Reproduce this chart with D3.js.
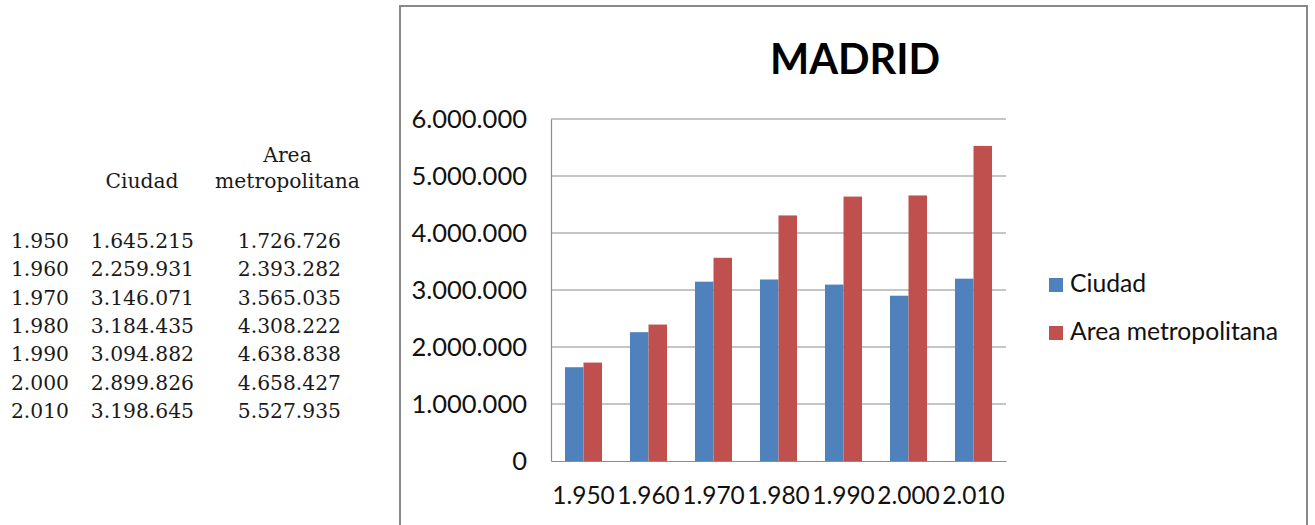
<!DOCTYPE html>
<html>
<head>
<meta charset="utf-8">
<script src="https://cdn.jsdelivr.net/npm/d3@7"></script>
<style>
  html, body { margin: 0; padding: 0; background: #fff; overflow: hidden; }
  svg { display: block; }
</style>
</head>
<body>
<svg id="chart" width="1315" height="525"></svg>
<script>
// ---- data ----
const years = [1950, 1960, 1970, 1980, 1990, 2000, 2010];
const ciudad = [1645215, 2259931, 3146071, 3184435, 3094882, 2899826, 3198645];
const areaMetropolitana = [1726726, 2393282, 3565035, 4308222, 4638838, 4658427, 5527935];
const seriesNames = ["Ciudad", "Area metropolitana"];
const yTicks = [0, 1000000, 2000000, 3000000, 4000000, 5000000, 6000000];
const title = "MADRID";

// ---- formatting (Spanish thousands separator) ----
const loc = d3.formatLocale({ decimal: ",", thousands: ".", grouping: [3], currency: ["", "€"] });
const fmt = loc.format(",d");

const svg = d3.select("#chart");
const colors = ["#4F81BD", "#C0504D"];
const sansFont = "Lato, 'Open Sans', sans-serif";
const serifFont = "'DejaVu Serif', serif";

// ---- left data table ----
const table = svg.append("g").attr("font-family", serifFont).attr("font-size", 20.3).attr("fill", "#1a1a1a");
const colRight = [69, 194, 341];
const colCenter = [40, 142, 287.5];
table.append("text").attr("x", colCenter[1]).attr("y", 188).attr("text-anchor", "middle").text(seriesNames[0]);
table.append("text").attr("x", colCenter[2]).attr("y", 162).attr("text-anchor", "middle").text("Area");
table.append("text").attr("x", colCenter[2]).attr("y", 188).attr("text-anchor", "middle").text("metropolitana");
const rowY = d3.scaleLinear().domain([0, years.length - 1]).range([248, 418]);
years.forEach((yr, i) => {
  const row = [fmt(yr), fmt(ciudad[i]), fmt(areaMetropolitana[i])];
  row.forEach((t, c) => {
    table.append("text").attr("x", colRight[c]).attr("y", rowY(i)).attr("text-anchor", "end").text(t);
  });
});

// ---- chart frame ----
svg.append("rect")
  .attr("x", 400).attr("y", 6).attr("width", 907).attr("height", 560)
  .attr("fill", "#fff").attr("stroke", "#898989").attr("stroke-width", 2);

// ---- title ----
svg.append("text")
  .attr("x", 855).attr("y", 74)
  .attr("text-anchor", "middle")
  .attr("font-family", sansFont).attr("font-weight", "bold").attr("font-size", 41.5)
  .attr("fill", "#000")
  .text(title);

// ---- scales ----
const plot = { left: 551, right: 1006, top: 119, bottom: 461 };
const x0 = d3.scaleBand().domain(years).range([plot.left, plot.right]).paddingInner(0.43).paddingOuter(0.215);
const x1 = d3.scaleBand().domain([0, 1]).range([0, x0.bandwidth()]);
const y = d3.scaleLinear().domain([0, 6000000]).range([plot.bottom, plot.top]);

// ---- gridlines ----
svg.append("g")
  .selectAll("line").data(yTicks.filter(d => d > 0)).join("line")
  .attr("x1", plot.left).attr("x2", plot.right)
  .attr("y1", d => y(d)).attr("y2", d => y(d))
  .attr("stroke", "#8c8c8c").attr("stroke-width", 1.2);

// ---- bars ----
const seriesData = [ciudad, areaMetropolitana];
const gBars = svg.append("g");
seriesData.forEach((vals, s) => {
  gBars.selectAll(null).data(vals).join("rect")
    .attr("x", (d, i) => x0(years[i]) + x1(s))
    .attr("width", x1.bandwidth())
    .attr("y", d => y(d))
    .attr("height", d => y(0) - y(d))
    .attr("fill", colors[s]);
});

// ---- axes ----
const yAxis = d3.axisLeft(y).tickValues(yTicks).tickSize(0).tickPadding(24).tickFormat(fmt);
const gy = svg.append("g").attr("transform", `translate(${plot.left},0)`).call(yAxis);
gy.select(".domain").attr("stroke", "#8c8c8c").attr("stroke-width", 1.2);
gy.selectAll("text").attr("font-family", sansFont).attr("font-size", 25.5).attr("fill", "#111");

const xAxis = d3.axisBottom(x0).tickSize(0).tickPadding(26).tickFormat(d => fmt(d));
const gx = svg.append("g").attr("transform", `translate(0,${plot.bottom})`).call(xAxis);
gx.select(".domain").attr("stroke", "#8c8c8c").attr("stroke-width", 1.2);
gx.selectAll("text").attr("font-family", sansFont).attr("font-size", 24.5).attr("fill", "#111");

// ---- legend ----
const legend = svg.append("g");
seriesNames.forEach((name, i) => {
  const ly = 278 + i * 48;
  legend.append("rect").attr("x", 1049).attr("y", ly).attr("width", 14).attr("height", 14).attr("fill", colors[i]);
  legend.append("text").attr("x", 1070).attr("y", ly + 14)
    .attr("font-family", sansFont).attr("font-size", 24.7).attr("fill", "#111").text(name);
});
</script>
</body>
</html>
